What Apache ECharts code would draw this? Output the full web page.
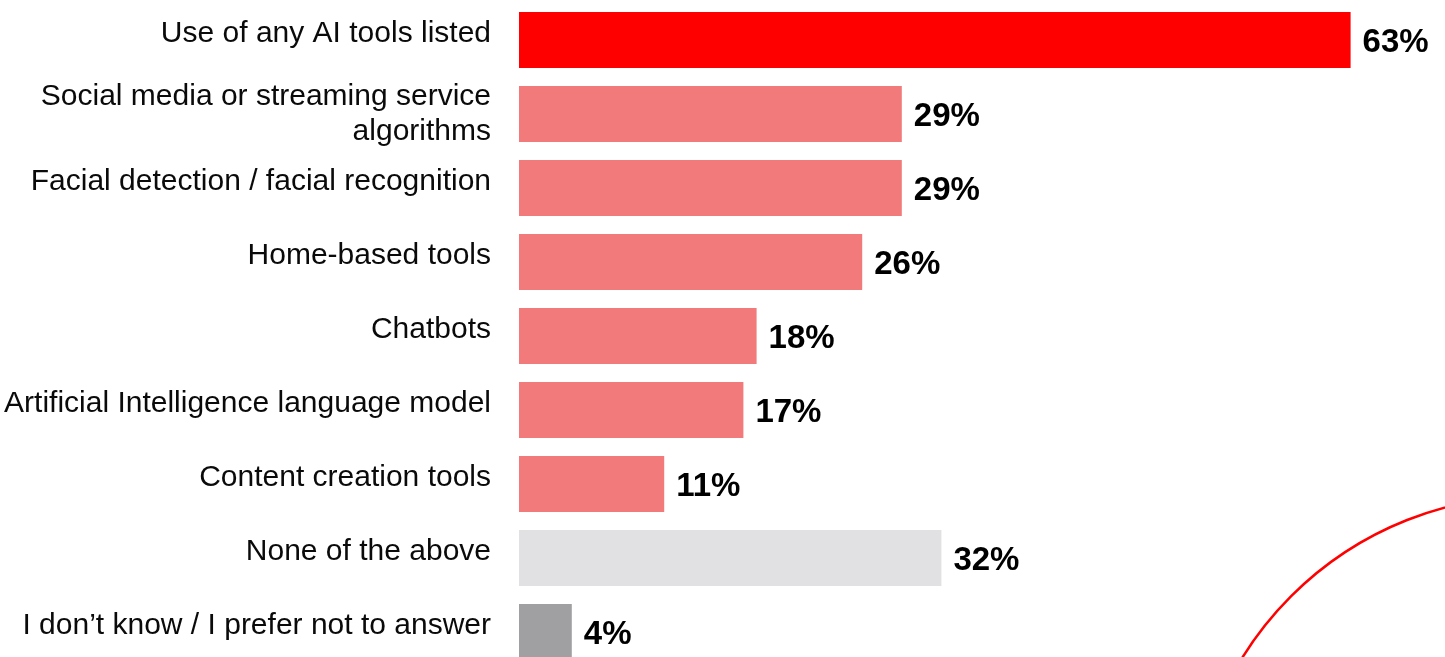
<!DOCTYPE html>
<html>
<head>
<meta charset="utf-8">
<script src="https://cdn.jsdelivr.net/npm/echarts@6/dist/echarts.min.js"></script>
<style>
html,body{margin:0;padding:0;background:#fff;}
#chart{width:1445px;height:657px;}
</style>
</head>
<body>
<div id="chart"></div>
<script>
const categories = [
  'Use of any AI tools listed',
  'Social media or streaming service\nalgorithms',
  'Facial detection / facial recognition',
  'Home-based tools',
  'Chatbots',
  'Artificial Intelligence language model',
  'Content creation tools',
  'None of the above',
  'I don\u2019t know / I prefer not to answer'
];
const values = [63, 29, 29, 26, 18, 17, 11, 32, 4];
const barColors = ['#FF0000', '#F27A7A', '#F27A7A', '#F27A7A', '#F27A7A', '#F27A7A', '#F27A7A', '#E1E1E3', '#A0A0A3'];

const chart = echarts.init(document.getElementById('chart'), null, {renderer: 'canvas'});
const FONT = '"Liberation Sans", Arial, sans-serif';
chart.setOption({
  animation: false,
  backgroundColor: '#ffffff',
  grid: {left: 519, right: 2, top: 3, bottom: -12, containLabel: false, outerBoundsMode: 'none'},
  xAxis: {
    type: 'value', min: 0, max: 70, show: false
  },
  yAxis: {
    type: 'category',
    data: categories,
    inverse: true,
    axisLine: {show: false},
    axisTick: {show: false},
    splitLine: {show: false},
    axisLabel: {
      margin: 28,
      color: '#0a0a0a',
      fontFamily: FONT,
      fontSize: 30,
      lineHeight: 35,
      align: 'right',
      formatter: function (v) {
        return v.indexOf('\n') >= 0 ? '{m|' + v.split('\n').join('}\n{m|') + '}' : '{s|' + v + '}';
      },
      rich: {
        s: {fontFamily: FONT, fontSize: 30, color: '#0a0a0a', lineHeight: 35, padding: [0, 0, 12, 0]},
        m: {fontFamily: FONT, fontSize: 30, color: '#0a0a0a', lineHeight: 35}
      }
    }
  },
  series: [{
    type: 'bar',
    barWidth: 56,
    data: values.map((v, i) => ({value: v, itemStyle: {color: barColors[i]}})),
    label: {
      show: true,
      position: 'right',
      distance: 12,
      offset: [0, 3],
      formatter: '{c}%',
      color: '#000000',
      fontFamily: FONT,
      fontWeight: 'bold',
      fontSize: 33
    }
  }],
  graphic: [{
    type: 'circle',
    shape: {cx: 1533, cy: 838, r: 342},
    style: {fill: 'none', stroke: '#FF0000', lineWidth: 2.5},
    silent: true,
    z: 10
  }]
});
</script>
</body>
</html>
